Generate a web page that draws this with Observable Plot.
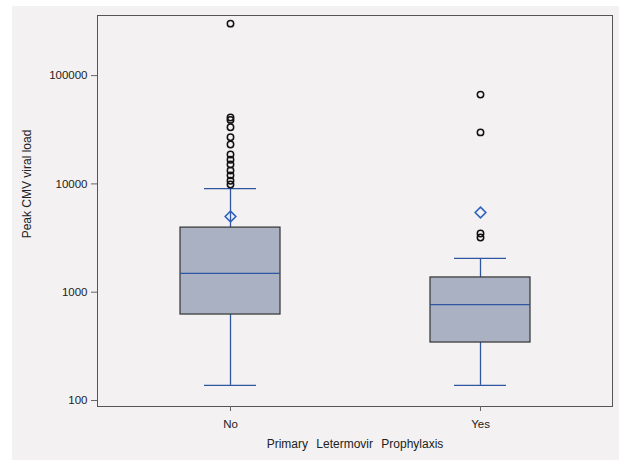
<!DOCTYPE html>
<html>
<head>
<meta charset="utf-8">
<script src="https://cdn.jsdelivr.net/npm/d3@7"></script>
<script src="https://cdn.jsdelivr.net/npm/@observablehq/plot@0.6"></script>
<style>
  html, body { margin: 0; padding: 0; background: #fff; }
  #chart svg { display: block; }
</style>
</head>
<body>
<div id="chart"></div>
<script>
// Groups and box statistics
const groups = ["No", "Yes"];
const q1 = [622, 343];
const median = [1490, 769];
const q3 = [3950, 1368];
const whiskerLow = [138, 138];
const whiskerHigh = [9060, 2050];
const means = [5000, 5450];

// Outliers
const outliersNo = [302000, 41000, 39000, 33400, 27000, 23100, 18700, 16700, 15100, 13300, 12000, 10700, 9870];
const outliersYes = [66800, 29900, 3480, 3200];

const yTicks = [100, 1000, 10000, 100000];
const xTitle = "Primary Letermovir Prophylaxis";
const yTitle = "Peak CMV viral load";

const boxes = groups.map((g, i) => ({
  group: g, q1: q1[i], median: median[i], q3: q3[i],
  lo: whiskerLow[i], hi: whiskerHigh[i], mean: means[i]
}));
const outliers = [
  ...outliersNo.map(v => ({group: "No", value: v})),
  ...outliersYes.map(v => ({group: "Yes", value: v}))
];

const blue = "#2f56a0";
const chart = Plot.plot({
  width: 619,
  height: 460,
  marginLeft: 97,
  marginRight: 7,
  marginTop: 15,
  marginBottom: 54,
  style: {
    fontFamily: "'Liberation Sans', Arial, sans-serif",
    fontSize: "11.5px",
    color: "#222",
    background: "linear-gradient(#f3f1f2,#f3f1f2) no-repeat 12px 6px / 607px 454px, #fff"
  },
  x: {
    type: "band",
    domain: groups,
    paddingInner: 0.6,
    paddingOuter: 0.326,
    label: null
  },
  y: {
    type: "log",
    domain: [88, 359000],
    label: null
  },
  marks: [
    Plot.frame({stroke: "#555", strokeWidth: 1}),
    Plot.axisY({ticks: yTicks, tickFormat: d => String(d), tickSize: 6, tickPadding: 4, stroke: "#666", fontSize: "11.5px"}),
    Plot.axisX({tickSize: 5, tickPadding: 8, stroke: "#666", fontSize: "11.5px"}),
    // whiskers
    Plot.ruleX(boxes, {x: "group", y1: "q3", y2: "hi", stroke: blue, strokeWidth: 1.3}),
    Plot.ruleX(boxes, {x: "group", y1: "lo", y2: "q1", stroke: blue, strokeWidth: 1.3}),
    // caps
    Plot.tickY(boxes, {x: "group", y: "hi", stroke: blue, strokeWidth: 1.3, insetLeft: 24, insetRight: 24}),
    Plot.tickY(boxes, {x: "group", y: "lo", stroke: blue, strokeWidth: 1.3, insetLeft: 24, insetRight: 24}),
    // boxes
    Plot.barY(boxes, {x: "group", y1: "q1", y2: "q3", fill: "#a9b1c2", stroke: "#333", strokeWidth: 1.2}),
    // medians
    Plot.tickY(boxes, {x: "group", y: "median", stroke: blue, strokeWidth: 1.3}),
    // means
    Plot.dot(boxes, {x: "group", y: "mean", symbol: "diamond2", r: 4.8, stroke: "#2e62c0", strokeWidth: 1.6, fill: "none"}),
    // outliers
    Plot.dot(outliers, {x: "group", y: "value", r: 3.2, stroke: "#111", strokeWidth: 1.5, fill: "none"}),
    // titles
    Plot.text([yTitle], {frameAnchor: "left", textAnchor: "middle", dx: -70, dy: -27, rotate: -90, fontSize: 12, fill: "#222"}),
    Plot.text([xTitle], {frameAnchor: "bottom", textAnchor: "middle", dy: 41, fontSize: 12, fill: "#222", className: "xtitle"})
  ]
});
d3.select(chart).selectAll("text").filter(function () { return this.textContent === xTitle; })
  .style("word-spacing", "5px");
document.getElementById("chart").appendChild(chart);
</script>
</body>
</html>
